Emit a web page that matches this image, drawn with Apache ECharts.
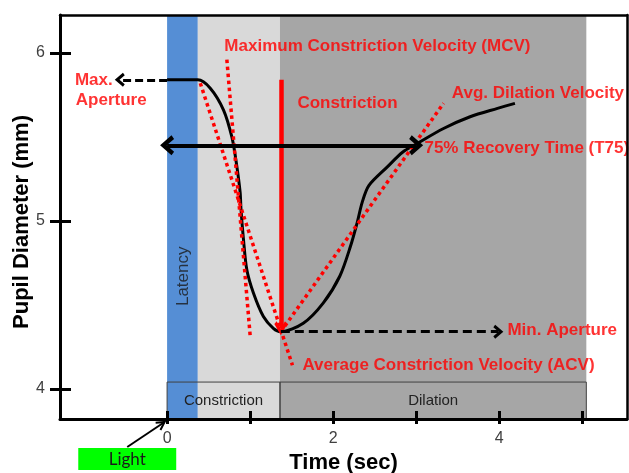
<!DOCTYPE html>
<html><head><meta charset="utf-8">
<script src="https://cdn.jsdelivr.net/npm/echarts@6/dist/echarts.min.js"></script>
<style>html,body{margin:0;padding:0;background:#fff}#c{width:629px;height:473px}</style>
</head><body><div id="c"></div>
<script>
// ---- data ----
const timeMin = -1.29, timeMax = 5.54;
const diamMin = 3.82, diamMax = 6.226;
const xTickValues = [0, 1, 2, 3, 4, 5];
const xLabelValues = [0, 2, 4];
const yTickValues = [4, 5, 6];

const curveTime = [0, 0.20, 0.37, 0.52, 0.68, 0.78, 0.83, 0.88, 0.89, 0.92, 0.96, 1.04, 1.16, 1.28, 1.37, 1.64, 1.88, 2.08, 2.21, 2.29, 2.35, 2.43, 2.65, 2.84, 3.01, 3.33, 3.65, 3.98, 4.19];
const curveDiameter = [5.84, 5.84, 5.84, 5.79, 5.66, 5.50, 5.36, 5.17, 5.07, 4.89, 4.71, 4.57, 4.43, 4.36, 4.34, 4.39, 4.51, 4.67, 4.85, 4.99, 5.11, 5.21, 5.32, 5.41, 5.46, 5.55, 5.62, 5.67, 5.70];

const bandEdges = [0, 0.37, 1.36, 5.05];        // latency | constriction | dilation
const phaseNames = ['Constriction', 'Dilation'];
const phaseEdges = [0, 1.36, 5.05];
const phaseBoxTop = 4.04;

const maxAperture = 5.84, minAperture = 4.34, minTime = 1.37;
const maxApertureArrowEnd = -0.57, minApertureArrowEnd = 3.99;
const t75Time = 3.0, t75Diameter = 5.45;
const mcvLine = [[0.72, 5.96], [1.00, 4.32]];
const acvLine = [[0.40, 5.82], [1.51, 4.14]];
const advLine = [[1.37, 4.34], [3.33, 5.70]];

const annotationTexts = ['Max.', 'Aperture', 'Maximum Constriction Velocity (MCV)', 'Constriction', 'Avg. Dilation Velocity', '75% Recovery Time (T75)', 'Min. Aperture', 'Average Constriction Velocity (ACV)'];
const annotationTime = [-1.11, -1.10, 0.69, 1.57, 3.43, 3.10, 4.10, 1.63];
const annotationDiameter = [5.84, 5.72, 6.04, 5.70, 5.76, 5.43, 4.35, 4.14];
const latencyText = 'Latency', latencyTime = 0.19, latencyDiameter = 4.67;

const lightText = 'Light';
const lightBoxTime = [-1.07, 0.11];
const lightArrowTime = [-0.48, -0.03];

// ---- chart ----
const chart = echarts.init(document.getElementById('c'), null, {renderer: 'canvas'});
const FONT = "'Liberation Sans', Arial, sans-serif";
const chevron = 'path://M5,0 L10,6.2 L8.2,7.6 L5,3.6 L1.8,7.6 L0,6.2 Z';

const bandColors = ['#558ED5', '#D9D9D9', '#A6A6A6'];
const bands = [];
for (let i = 0; i < bandEdges.length - 1; i++) {
  bands.push([{xAxis: bandEdges[i], itemStyle: {color: bandColors[i]}}, {xAxis: bandEdges[i + 1]}]);
}
const boxes = phaseNames.map((n, i) => [
  {name: n, coord: [phaseEdges[i], diamMin]},
  {coord: [phaseEdges[i + 1], phaseBoxTop]}
]);

function seg(a, b, style, endSym, startSym, symSize) {
  return [
    {coord: a, lineStyle: style, symbol: startSym || 'none', symbolSize: symSize},
    {coord: b, symbol: endSym || 'none', symbolSize: symSize}
  ];
}
const red = '#FF0000';
const dotted = {color: red, width: 3.5, type: [3.5, 3.5]};
const lines = [
  seg(mcvLine[0], mcvLine[1], dotted),
  seg(acvLine[0], acvLine[1], dotted),
  seg(advLine[0], advLine[1], dotted),
  seg([minTime, maxAperture], [minTime, minAperture + 0.02], {color: red, width: 4.5, type: 'solid'}, chevron, null, [13, 14]),
  seg([0, t75Diameter], [t75Time, t75Diameter], {color: '#000', width: 4, type: 'solid'}, chevron, chevron, [20, 14]),
  seg([0, maxAperture], [maxApertureArrowEnd, maxAperture], {color: '#000', width: 3, type: [8, 4]}, chevron, null, [14, 10]),
  seg([minTime, minAperture], [minApertureArrowEnd, minAperture], {color: '#000', width: 3, type: [9, 5]}, chevron, null, [14, 10])
];

const annData = annotationTexts.map((t, i) => ({value: [annotationTime[i], annotationDiameter[i]], name: t}));

const baseAxis = {type: 'value', splitLine: {show: false}, z: 10};
const option = {
  animation: false,
  backgroundColor: '#fff',
  grid: {left: 60, right: 2, top: 15, bottom: 54, outerBoundsMode: 'none', containLabel: false},
  xAxis: [
    Object.assign({}, baseAxis, {
      min: timeMin, max: timeMax, position: 'bottom',
      axisLine: {show: true, onZero: false, lineStyle: {color: '#000', width: 3}},
      axisTick: {show: true, inside: false, length: 5, lineStyle: {color: '#000', width: 3}, customValues: xTickValues},
      axisLabel: {show: true, customValues: xLabelValues, color: '#404040', fontSize: 16, fontFamily: FONT, margin: 12},
      name: 'Time (sec)', nameLocation: 'middle', nameGap: 33, nameMoveOverlap: false,
      nameTextStyle: {color: '#000', fontSize: 22, fontWeight: 'bold', fontFamily: FONT}
    }),
    Object.assign({}, baseAxis, {
      min: timeMin, max: timeMax, position: 'bottom',
      axisLine: {show: false, onZero: false},
      axisTick: {show: true, inside: true, length: 8, lineStyle: {color: '#000', width: 3}, customValues: xTickValues},
      axisLabel: {show: false}
    }),
    Object.assign({}, baseAxis, {
      min: timeMin, max: timeMax, position: 'top',
      axisLine: {show: true, onZero: false, lineStyle: {color: '#000', width: 2.5}},
      axisTick: {show: false}, axisLabel: {show: false}
    })
  ],
  yAxis: [
    Object.assign({}, baseAxis, {
      min: diamMin, max: diamMax, position: 'left',
      axisLine: {show: true, onZero: false, lineStyle: {color: '#000', width: 3}},
      axisTick: {show: true, inside: false, length: 10, lineStyle: {color: '#000', width: 3}, customValues: yTickValues},
      axisLabel: {show: true, customValues: yTickValues, color: '#404040', fontSize: 16, fontFamily: FONT, margin: 15},
      name: 'Pupil Diameter (mm)', nameLocation: 'middle', nameGap: 27, nameMoveOverlap: false,
      nameTextStyle: {color: '#000', fontSize: 22, fontWeight: 'bold', fontFamily: FONT, padding: [0, 10, 0, 0]}
    }),
    Object.assign({}, baseAxis, {
      min: diamMin, max: diamMax, position: 'left',
      axisLine: {show: false, onZero: false},
      axisTick: {show: true, inside: true, length: 11, lineStyle: {color: '#000', width: 3}, customValues: yTickValues},
      axisLabel: {show: false}
    }),
    Object.assign({}, baseAxis, {
      min: diamMin, max: diamMax, position: 'right',
      axisLine: {show: true, onZero: false, lineStyle: {color: '#000', width: 2.5}},
      axisTick: {show: false}, axisLabel: {show: false}
    })
  ],
  series: [
    {
      type: 'line', name: 'bands', data: [], z: 1, silent: true,
      markArea: {silent: true, data: bands, label: {show: false}}
    },
    {
      type: 'line', name: 'phases', data: [], z: 2, silent: true,
      markArea: {
        silent: true, data: boxes,
        itemStyle: {color: 'rgba(0,0,0,0)', borderColor: '#404040', borderWidth: 1},
        label: {show: true, position: 'inside', color: '#222', fontSize: 15, fontFamily: FONT}
      }
    },
    {
      type: 'line', name: 'pupil', z: 4, smooth: 0.3, showSymbol: false, symbol: 'none', silent: true,
      lineStyle: {color: '#000', width: 3},
      data: curveTime.map((t, i) => [t, curveDiameter[i]])
    },
    {
      type: 'line', name: 'guides', data: [], z: 5, silent: true,
      markLine: {silent: true, animation: false, label: {show: false}, emphasis: {disabled: true}, data: lines}
    },
    {
      type: 'scatter', name: 'annotations', z: 6, silent: true, symbolSize: 0,
      data: annData,
      label: {show: true, position: 'right', distance: 0, formatter: p => p.name, color: red, fontSize: 17, fontWeight: 'bold', fontFamily: FONT}
    },
    {
      type: 'scatter', name: 'latency', z: 6, silent: true, symbolSize: 0,
      data: [{value: [latencyTime, latencyDiameter], name: latencyText}],
      label: {show: true, position: 'inside', rotate: 90, formatter: p => p.name, color: '#1a1a1a', fontSize: 17, fontFamily: FONT}
    }
  ]
};
chart.setOption(option);

// Light marker below the axis, positioned from data times
const px0 = chart.convertToPixel({xAxisIndex: 0, yAxisIndex: 0}, [lightBoxTime[0], diamMin]);
const px1 = chart.convertToPixel({xAxisIndex: 0, yAxisIndex: 0}, [lightBoxTime[1], diamMin]);
const a0 = chart.convertToPixel({xAxisIndex: 0, yAxisIndex: 0}, [lightArrowTime[0], diamMin]);
const a1 = chart.convertToPixel({xAxisIndex: 0, yAxisIndex: 0}, [lightArrowTime[1], diamMin]);
const axisY = px0[1];
const boxTop = axisY + 29, boxH = 22;
const sx = a0[0], sy = axisY + 28, ex = a1[0], ey = axisY + 3;
const ang = Math.atan2(ey - sy, ex - sx);
const hl = 9, ha = 0.5;
chart.setOption({
  graphic: [
    {type: 'rect', shape: {x: px0[0], y: boxTop, width: px1[0] - px0[0], height: boxH}, style: {fill: '#00FF00'}, z: 20},
    {type: 'text', x: (px0[0] + px1[0]) / 2, y: boxTop + boxH / 2 + 1, style: {text: lightText, fill: '#1a1a1a', font: '17px Lato, sans-serif', textAlign: 'center', textVerticalAlign: 'middle'}, z: 21},
    {type: 'line', shape: {x1: sx, y1: sy, x2: ex, y2: ey}, style: {stroke: '#000', lineWidth: 2}, z: 21},
    {type: 'polyline', shape: {points: [
      [ex - hl * Math.cos(ang - ha), ey - hl * Math.sin(ang - ha)], [ex, ey],
      [ex - hl * Math.cos(ang + ha), ey - hl * Math.sin(ang + ha)]]},
      style: {stroke: '#000', lineWidth: 2, fill: null}, z: 21}
  ]
});
</script>
</body></html>
